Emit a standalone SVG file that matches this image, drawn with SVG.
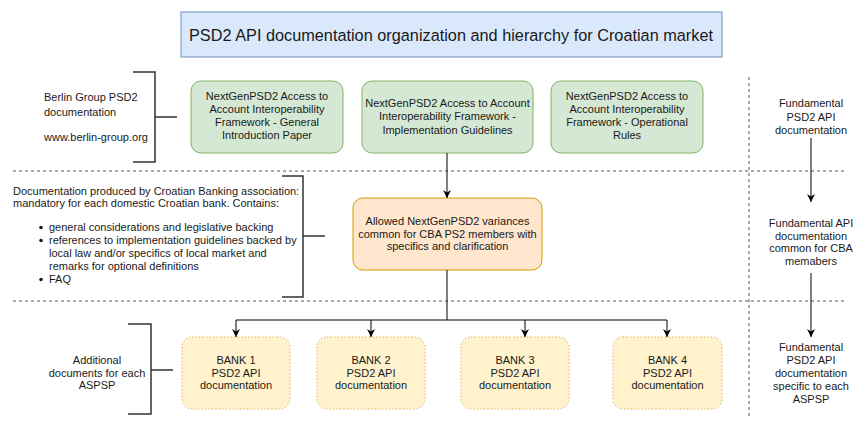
<svg xmlns="http://www.w3.org/2000/svg" width="865" height="440" viewBox="0 0 865 440">
<defs>
<marker id="arr" viewBox="0 0 10 10" refX="10" refY="5" markerWidth="8" markerHeight="8" orient="auto" markerUnits="userSpaceOnUse">
<path d="M0,0 L10,5 L0,10 L3,5 Z" fill="#000"/>
</marker>
</defs>
<style>
text{font-family:"Liberation Sans",Arial,sans-serif;font-size:11px;fill:#1a1a1a}
.c{text-anchor:middle}
.green{fill:#d5e8d4;stroke:#82b366;stroke-width:1}
.orange{fill:#ffe6cc;stroke:#d79b00;stroke-width:1}
.bank{fill:#fff2cc;stroke:#d6b656;stroke-width:1;stroke-dasharray:1.5 2}
.sep{stroke:#555;stroke-width:1;stroke-dasharray:3 3;fill:none}
.br{stroke:#333;stroke-width:1.5;fill:none}
.conn{stroke:#000;stroke-width:1;fill:none}
</style>
<rect width="865" height="440" fill="#fff"/>
<g id="separators">
<line class="sep" x1="13" y1="171" x2="846" y2="171"/>
<line class="sep" x1="13" y1="301" x2="846" y2="301"/>
<line class="sep" x1="749" y1="77" x2="749" y2="418"/>
</g>
<g id="title">
<rect x="181" y="12" width="541" height="45" fill="#dae8fc" stroke="#6c8ebf"/>
<text class="c" x="451" y="40.5" style="font-size:16.3px">PSD2 API documentation organization and hierarchy for Croatian market</text>
</g>
<g id="berlin-label">
<path class="br" d="M133,72 H155 V162 H133 M155,117 H177"/>
<text x="44" y="101">Berlin Group PSD2</text>
<text x="44" y="115.5">documentation</text>
<text x="44" y="141">www.berlin-group.org</text>
</g>
<g id="general">
<rect class="green" x="191" y="81" width="152" height="72" rx="10"/>
<text class="c" x="267" y="99.5">NextGenPSD2 Access to</text>
<text class="c" x="267" y="112.7">Account Interoperability</text>
<text class="c" x="267" y="125.9">Framework - General</text>
<text class="c" x="267" y="139.1">Introduction Paper</text>
</g>
<g id="impl">
<rect class="green" x="362" y="81" width="171" height="72" rx="10"/>
<text class="c" x="447.5" y="107">NextGenPSD2 Access to Account</text>
<text class="c" x="447.5" y="120.3">Interoperability Framework -</text>
<text class="c" x="447.5" y="133.5">Implementation Guidelines</text>
</g>
<g id="oper">
<rect class="green" x="551" y="81" width="152" height="72" rx="10"/>
<text class="c" x="627" y="99.5">NextGenPSD2 Access to</text>
<text class="c" x="627" y="112.7">Account Interoperability</text>
<text class="c" x="627" y="125.9">Framework - Operational</text>
<text class="c" x="627" y="139.1">Rules</text>
</g>
<g id="cba-label">
<path class="br" d="M282,176 H303 V297 H282 M303,236 H325"/>
<text x="13" y="194.5">Documentation produced by Croatian Banking association:</text>
<text x="13" y="207">mandatory for each domestic Croatian bank. Contains:</text>
<circle cx="41" cy="227.5" r="1.8" fill="#1a1a1a"/>
<circle cx="41" cy="240.5" r="1.8" fill="#1a1a1a"/>
<circle cx="41" cy="279.5" r="1.8" fill="#1a1a1a"/>
<text x="49" y="231">general considerations and legislative backing</text>
<text x="49" y="244.2">references to implementation guidelines backed by</text>
<text x="49" y="257">local law and/or specifics of local market and</text>
<text x="49" y="270">remarks for optional definitions</text>
<text x="49" y="283">FAQ</text>
</g>
<g id="variances">
<rect class="orange" x="353" y="198" width="189" height="72" rx="10"/>
<text class="c" x="447.5" y="225">Allowed NextGenPSD2 variances</text>
<text class="c" x="447.5" y="237.6">common for CBA PS2 members with</text>
<text class="c" x="447.5" y="250.2">specifics and clarification</text>
</g>
<g id="aspsp-label">
<path class="br" d="M128,324 H151 V414 H128 M151,370 H173"/>
<text class="c" x="97" y="364">Additional</text>
<text class="c" x="97" y="376.5">documents for each</text>
<text class="c" x="97" y="389">ASPSP</text>
</g>
<g id="bank1">
<rect class="bank" x="182" y="337" width="108" height="72" rx="10"/>
<text class="c" x="236" y="364">BANK 1</text>
<text class="c" x="236" y="376.5">PSD2 API</text>
<text class="c" x="236" y="389">documentation</text>
</g>
<g id="bank2">
<rect class="bank" x="317" y="337" width="108" height="72" rx="10"/>
<text class="c" x="371" y="364">BANK 2</text>
<text class="c" x="371" y="376.5">PSD2 API</text>
<text class="c" x="371" y="389">documentation</text>
</g>
<g id="bank3">
<rect class="bank" x="461" y="337" width="108" height="72" rx="10"/>
<text class="c" x="515" y="364">BANK 3</text>
<text class="c" x="515" y="376.5">PSD2 API</text>
<text class="c" x="515" y="389">documentation</text>
</g>
<g id="bank4">
<rect class="bank" x="613" y="337" width="109" height="72" rx="10"/>
<text class="c" x="667.5" y="364">BANK 4</text>
<text class="c" x="667.5" y="376.5">PSD2 API</text>
<text class="c" x="667.5" y="389">documentation</text>
</g>
<g id="right-column">
<text class="c" x="811" y="107">Fundamental</text>
<text class="c" x="811" y="120.5">PSD2 API</text>
<text class="c" x="811" y="134">documentation</text>
<text class="c" x="811" y="227">Fundamental API</text>
<text class="c" x="811" y="239.5">documentation</text>
<text class="c" x="811" y="252">common for CBA</text>
<text class="c" x="811" y="265">memabers</text>
<text class="c" x="811" y="351">Fundamental</text>
<text class="c" x="811" y="364">PSD2 API</text>
<text class="c" x="811" y="377">documentation</text>
<text class="c" x="811" y="390">specific to each</text>
<text class="c" x="811" y="403">ASPSP</text>
</g>
<g id="connectors">
<line class="conn" x1="447" y1="153" x2="447" y2="198" marker-end="url(#arr)"/>
<path class="conn" d="M447,270 V320"/>
<path class="conn" d="M236,320 H667"/>
<line class="conn" x1="236" y1="320" x2="236" y2="337" marker-end="url(#arr)"/>
<line class="conn" x1="371" y1="320" x2="371" y2="337" marker-end="url(#arr)"/>
<line class="conn" x1="525" y1="320" x2="525" y2="337" marker-end="url(#arr)"/>
<line class="conn" x1="667" y1="320" x2="667" y2="337" marker-end="url(#arr)"/>
<line class="conn" x1="811" y1="138" x2="811" y2="202" marker-end="url(#arr)"/>
<line class="conn" x1="811" y1="273" x2="811" y2="337" marker-end="url(#arr)"/>
</g>
</svg>
